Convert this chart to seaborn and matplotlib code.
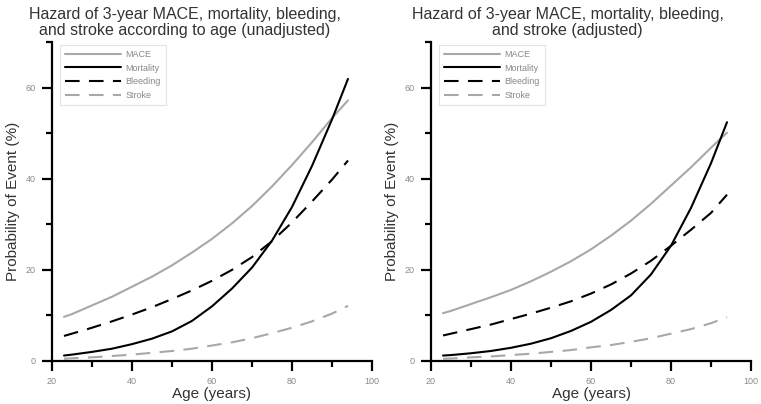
import numpy as np
import pandas as pd
import seaborn as sns
import matplotlib
matplotlib.use("Agg")
import matplotlib.pyplot as plt
from matplotlib.ticker import MultipleLocator

# ---- data ----
ages = [23, 25, 30, 35, 40, 45, 50, 55, 60, 65, 70, 75, 80, 85, 90, 94]
series_names = ["MACE", "Mortality", "Bleeding", "Stroke"]

# Unadjusted (left panel)
mace_unadj = [9.7, 10.3, 12.2, 14.1, 16.3, 18.5, 21.0, 23.8, 26.8, 30.2, 34.0, 38.3, 43.0, 48.0, 53.3, 57.2]
mort_unadj = [1.2, 1.4, 2.0, 2.7, 3.7, 4.9, 6.5, 8.8, 12.0, 15.9, 20.5, 26.4, 33.8, 42.8, 53.0, 61.9]
bleed_unadj = [5.5, 6.0, 7.3, 8.7, 10.2, 11.8, 13.6, 15.5, 17.6, 20.0, 22.8, 26.3, 30.4, 35.0, 39.8, 44.0]
stroke_unadj = [0.5, 0.6, 0.8, 1.1, 1.4, 1.8, 2.2, 2.7, 3.4, 4.1, 5.0, 6.1, 7.3, 8.7, 10.4, 12.1]

# Adjusted (right panel)
mace_adj = [10.5, 11.0, 12.5, 14.0, 15.6, 17.5, 19.6, 21.9, 24.5, 27.5, 30.8, 34.5, 38.5, 42.5, 46.8, 50.1]
mort_adj = [1.2, 1.3, 1.7, 2.2, 2.9, 3.8, 5.0, 6.6, 8.6, 11.2, 14.4, 19.0, 25.3, 33.6, 43.4, 52.4]
bleed_adj = [5.6, 6.0, 7.0, 8.0, 9.2, 10.4, 11.7, 13.1, 14.8, 16.8, 19.2, 22.0, 25.3, 28.8, 32.5, 36.5]
stroke_adj = [0.5, 0.55, 0.8, 1.0, 1.3, 1.6, 2.0, 2.4, 3.0, 3.5, 4.2, 5.0, 6.0, 7.0, 8.3, 9.6]

titles = ["Hazard of 3-year MACE, mortality, bleeding,\nand stroke according to age (unadjusted)",
          "Hazard of 3-year MACE, mortality, bleeding,\nand stroke (adjusted)"]
xlabel = "Age (years)"
ylabel = "Probability of Event (%)"
xticks = [20, 40, 60, 80, 100]
yticks = [0, 20, 40, 60]


def make_df(mace, mort, bleed, stroke):
    frames = []
    for name, vals in zip(series_names, [mace, mort, bleed, stroke]):
        frames.append(pd.DataFrame({"Age": ages, "Prob": vals, "Event": name}))
    return pd.concat(frames, ignore_index=True)


panels = [make_df(mace_unadj, mort_unadj, bleed_unadj, stroke_unadj),
          make_df(mace_adj, mort_adj, bleed_adj, stroke_adj)]

sns.set_style("white")
plt.rcParams["font.family"] = ["Liberation Sans", "DejaVu Sans"]

palette = {"MACE": "#a8a8a8", "Mortality": "#000000", "Bleeding": "#000000", "Stroke": "#a8a8a8"}
dash_pat = (7, 4.5)
dashes = {"MACE": "", "Mortality": "", "Bleeding": dash_pat, "Stroke": dash_pat}

fig = plt.figure(figsize=(7.61, 4.04), dpi=100)
ax_rects = [[52 / 761, 43 / 404, 320 / 761, 319 / 404],
            [431 / 761, 43 / 404, 320 / 761, 319 / 404]]
title_x = [0.415, 0.427]

for i, df in enumerate(panels):
    ax = fig.add_axes(ax_rects[i])
    sns.lineplot(data=df, x="Age", y="Prob", hue="Event", style="Event",
                 hue_order=series_names, style_order=series_names,
                 palette=palette, dashes=dashes, linewidth=1.5,
                 legend=False, ax=ax)
    for line, name in zip(ax.lines, series_names):
        line.set_label(name)
        line.set_solid_joinstyle("round")
    ax.set_xlim(20, 100)
    ax.set_ylim(0, 70)
    ax.set_xticks(xticks)
    ax.set_yticks(yticks)
    ax.xaxis.set_minor_locator(MultipleLocator(10))
    ax.yaxis.set_minor_locator(MultipleLocator(10))
    for side in ["top", "right"]:
        ax.spines[side].set_visible(False)
    for side in ["left", "bottom"]:
        ax.spines[side].set_color("black")
        ax.spines[side].set_linewidth(1.6)
    ax.tick_params(which="major", direction="out", length=7.5, width=1.6,
                   color="black", labelsize=6.5, labelcolor="#8a8a8a", pad=4,
                   bottom=True, left=True)
    ax.tick_params(which="minor", direction="out", length=4, width=1.6,
                   color="black", bottom=True, left=True)
    ax.set_xlabel(xlabel, fontsize=11, color="#333333", labelpad=1)
    ax.set_ylabel(ylabel, fontsize=11, color="#333333", labelpad=4)
    ax.set_title(titles[i], fontsize=11.5, color="#333333", x=title_x[i],
                 pad=5, linespacing=1.1)
    leg = ax.legend(loc="upper left", bbox_to_anchor=(0.015, 1.0), fontsize=6.5,
                    handlelength=6.2, handletextpad=0.5, labelspacing=0.5,
                    frameon=True, fancybox=False, borderpad=0.6, borderaxespad=0.3)
    leg.get_frame().set_edgecolor("#dddddd")
    leg.get_frame().set_linewidth(0.8)
    for t in leg.get_texts():
        t.set_color("#888888")
    ax.set_facecolor("white")

fig.savefig("out.png", dpi=100)
